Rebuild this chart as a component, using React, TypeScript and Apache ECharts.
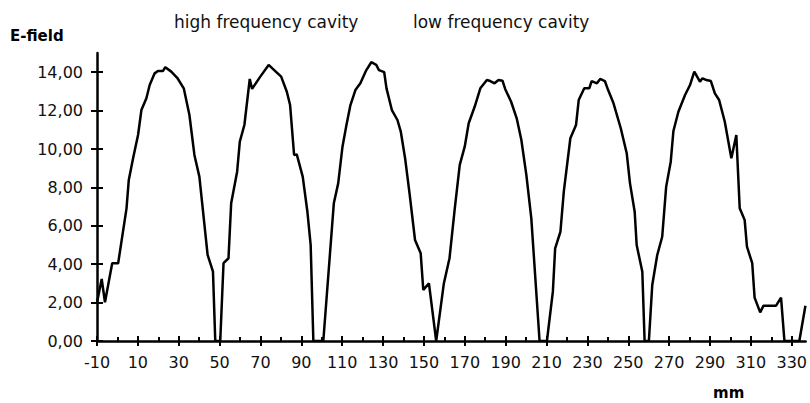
import React, { useEffect, useRef } from "react";
import * as echarts from "echarts";

// distance along the structure (mm)
const positionMm: number[] = [
  -10, -7.7, -6.1, -2.56, 0.36, 4.45, 5.56, 7.66, 10.09, 11.74, 14.17, 15.78, 18.21, 19.82, 22.25, 23.41,
  26.33, 29.25, 32.46, 35.23, 37.67, 40.1, 44.13, 46.76, 47.88, 50.31, 51.92, 54.35, 55.66, 58.58, 59.89,
  62.13, 64.76, 65.88, 69.91, 74.0, 76.72, 80.13, 82.9, 84.5, 86.45, 87.76, 90.68, 92.97, 94.57, 95.89,
  100.75, 105.9, 108.04, 110.14, 112.08, 114.03, 116.46, 118.89, 121.81, 124.24, 126.67, 127.99, 130.56,
  131.68, 134.31, 137.03, 138.68, 140.78, 143.06, 145.64, 148.41, 149.68, 152.45, 156.0, 159.75, 162.52,
  165.1, 167.53, 169.96, 171.91, 174.82, 177.6, 180.81, 182.46, 184.55, 186.5, 188.44, 189.75, 192.67,
  195.4, 197.68, 200.12, 202.55, 206.59, 210.19, 213.1, 214.22, 216.8, 218.45, 221.66, 224.44, 225.75,
  228.47, 230.91, 232.07, 234.65, 236.26, 238.54, 240.15, 242.78, 246.33, 249.24, 250.85, 253.14, 254.11,
  256.88, 258.0, 260.09, 261.74, 264.18, 266.61, 268.55, 270.79, 272.1, 274.53, 277.79, 280.22, 282.31,
  285.08, 286.35, 288.29, 290.43, 292.38, 294.47, 297.24, 300.45, 302.88, 304.54, 306.97, 308.09, 310.67,
  311.83, 314.56, 316.21, 322.34, 324.77, 326.43, 333.72, 336.7,
];

// measured E-field
const eField: number[] = [
  2.0, 3.23, 2.02, 4.05, 4.05, 6.91, 8.39, 9.52, 10.73, 12.03, 12.64, 13.33, 13.94, 14.06, 14.06, 14.26,
  14.03, 13.71, 13.16, 11.77, 9.69, 8.56, 4.48, 3.61, 0, 0, 4.05, 4.31, 7.17, 8.82, 10.38,
  11.25, 13.65, 13.13, 13.77, 14.38, 14.11, 13.77, 12.98, 12.29, 9.69, 9.72, 8.56, 6.73, 5.0, 0,
  0, 7.17, 8.21, 10.12, 11.25, 12.29, 13.07, 13.42, 14.11, 14.52, 14.38, 14.11, 14.0,
  13.16, 12.03, 11.51, 10.9, 9.52, 7.6, 5.26, 4.57, 2.66, 3.0, 0, 3.0, 4.31,
  6.91, 9.17, 10.12, 11.34, 12.2, 13.16, 13.59, 13.54, 13.42, 13.59, 13.56, 13.13, 12.46,
  11.6, 10.47, 8.65, 6.39, 0, 0, 2.57, 4.83, 5.69, 7.78, 10.56, 11.25, 12.55,
  13.16, 13.16, 13.54, 13.42, 13.65, 13.54, 13.07, 12.38, 11.08, 9.78, 8.21, 6.73, 5.0,
  3.61, 0, 0, 2.92, 4.48, 5.43, 8.04, 9.34, 10.94, 11.94, 12.81, 13.33, 14.03,
  13.51, 13.68, 13.59, 13.54, 12.9, 12.55, 11.42, 9.52, 10.73, 6.91, 6.3, 4.91, 4.05,
  2.26, 1.49, 1.84, 1.84, 2.26, 0, 0, 1.84,
];

const xTickLabels: number[] = [-10, 10, 30, 50, 70, 90, 110, 130, 150, 170, 190, 210, 230, 250, 270, 290, 310, 330];
const xMinorTicks: number[] = [0, 20, 40, 60, 80, 100, 120, 140, 160, 180, 200, 220, 240, 260, 280, 300, 320];
const yTickLabels: number[] = [0, 2, 4, 6, 8, 10, 12, 14];

const yAxisTitle = "E-field";
const xAxisTitle = "mm";
const legendLeft = "high frequency cavity";
const legendRight = "low frequency cavity";

const FONT = "DejaVu Sans";

export default function App() {
  const ref = useRef<HTMLDivElement>(null);

  useEffect(() => {
    if (!ref.current) return;
    const chart = echarts.init(ref.current, null, { renderer: "svg" });
    const X_MIN = -10;
    const X_MAX = 336.8;
    const grid = { left: 97, top: 53, width: 713, height: 288 };
    const black = "#000000";

    const baseX = {
      type: "value" as const,
      min: X_MIN,
      max: X_MAX,
      position: "bottom" as const,
      splitLine: { show: false },
      axisLine: { onZero: false },
    };
    const baseY = {
      type: "value" as const,
      min: 0,
      max: 15,
      position: "left" as const,
      splitLine: { show: false },
      axisLine: { onZero: false },
    };

    chart.setOption({
      animation: false,
      backgroundColor: "#ffffff",
      grid,
      xAxis: [
        {
          ...baseX,
          axisLine: { show: true, onZero: false, lineStyle: { color: black, width: 2.5 } },
          axisTick: { show: true, inside: false, length: 5, customValues: xTickLabels, lineStyle: { color: black, width: 2 } },
          axisLabel: {
            show: true,
            customValues: xTickLabels,
            margin: 13,
            color: "#111",
            fontFamily: FONT,
            fontSize: 16,
            formatter: (v: number) => String(v),
          },
        },
        {
          ...baseX,
          axisLine: { show: false, onZero: false },
          axisTick: { show: true, inside: true, length: 5, customValues: xTickLabels, lineStyle: { color: black, width: 2 } },
          axisLabel: { show: false },
        },
        {
          ...baseX,
          axisLine: { show: false, onZero: false },
          axisTick: { show: true, inside: true, length: 4, customValues: xMinorTicks, lineStyle: { color: black, width: 2 } },
          axisLabel: { show: false },
        },
      ],
      yAxis: [
        {
          ...baseY,
          axisLine: { show: true, onZero: false, lineStyle: { color: black, width: 2.5 } },
          axisTick: { show: true, inside: false, length: 6, customValues: yTickLabels, lineStyle: { color: black, width: 2 } },
          axisLabel: {
            show: true,
            customValues: yTickLabels,
            margin: 14,
            color: "#111",
            fontFamily: FONT,
            fontSize: 16,
            formatter: (v: number) => v.toFixed(2).replace(".", ","),
          },
        },
        {
          ...baseY,
          axisLine: { show: false, onZero: false },
          axisTick: { show: true, inside: true, length: 6, customValues: yTickLabels, lineStyle: { color: black, width: 2 } },
          axisLabel: { show: false },
        },
      ],
      graphic: [
        {
          type: "text",
          left: 10,
          top: 28,
          style: { text: yAxisTitle, fontFamily: FONT, fontSize: 15, fontWeight: "bold", fill: "#000" },
        },
        {
          type: "text",
          left: 174,
          top: 13,
          style: { text: legendLeft, fontFamily: FONT, fontSize: 17, fill: "#111" },
        },
        {
          type: "text",
          left: 413,
          top: 13,
          style: { text: legendRight, fontFamily: FONT, fontSize: 17, fill: "#111" },
        },
        {
          type: "text",
          left: 713,
          top: 385,
          style: { text: xAxisTitle, fontFamily: FONT, fontSize: 15, fontWeight: "bold", fill: "#000" },
        },
      ],
      series: [
        {
          type: "line",
          xAxisIndex: 0,
          yAxisIndex: 0,
          data: positionMm.map((x, i) => [x, eField[i]]),
          symbol: "none",
          lineStyle: { color: black, width: 2.5 },
          clip: true,
        },
      ],
    });

    return () => chart.dispose();
  }, []);

  return (
    <div
      ref={ref}
      style={{ position: "fixed", left: 0, top: 0, width: 810, height: 403, background: "#fff" }}
    />
  );
}
